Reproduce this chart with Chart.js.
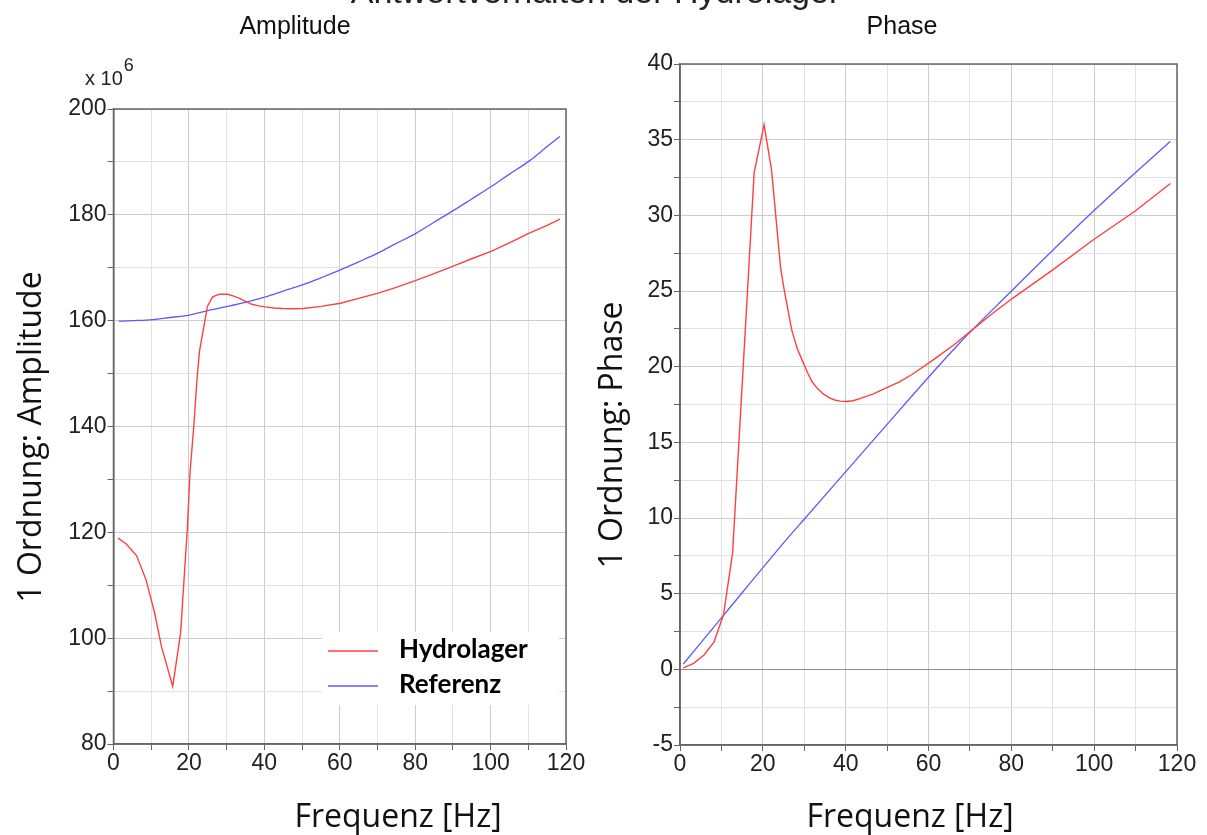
<!DOCTYPE html>
<html lang="de">
<head>
<meta charset="UTF-8">
<title>Antwortverhalten der Hydrolager</title>
<style>
  body { margin: 0; background: #fff; }
  #wrap { position: relative; width: 1207px; height: 835px; overflow: hidden; }
  #ampChart { position: absolute; left: 0; top: 0; }
  #phaseChart { position: absolute; left: 580px; top: 0; }
  #mainTitle { position: absolute; left: -8px; width: 1207px; top: -28px; text-align: center;
               font: 34px "Liberation Sans", Arial, sans-serif; color: #222; white-space: nowrap; }
</style>
</head>
<body>
<div id="wrap">
  <canvas id="ampChart" width="610" height="835"></canvas>
  <canvas id="phaseChart" width="627" height="835"></canvas>
  <div id="mainTitle">Antwortverhalten der Hydrolager</div>
</div>

<script src="https://cdn.jsdelivr.net/npm/chart.js"></script>
<script>
// Amplitude (x 10^6) ueber Frequenz [Hz]
const ampHydroFreq = [1.2, 3.4, 6.1, 8.6, 10.9, 12.7, 15.7, 17.8, 19.6, 20.3, 21.3, 22.2, 22.8, 24.9, 26.3, 28.1, 30.3, 31.7, 33.1, 34.9, 36.7, 38.5, 40.3, 42.5, 44.8, 47.5, 50.3, 55, 60.2, 65, 70.2, 75, 80.2, 85, 90.1, 95, 100.1, 105, 110.1, 115, 118.4];
const ampHydroVal  = [118.9, 117.8, 115.6, 111.1, 104.8, 98.5, 90.9, 101.0, 121.0, 131.4, 140.1, 149.5, 154.2, 162.7, 164.5, 165.0, 165.0, 164.7, 164.3, 163.7, 163.1, 162.8, 162.6, 162.4, 162.3, 162.25, 162.3, 162.7, 163.3, 164.2, 165.2, 166.3, 167.6, 168.9, 170.3, 171.7, 173.1, 174.7, 176.5, 178.0, 179.2];
const ampRefFreq = [1.4, 5, 10.4, 15, 20.4, 25, 30.3, 36.2, 40.3, 45, 50.3, 55, 60.2, 65, 70.2, 75, 80.2, 85, 90.1, 95, 100.1, 105, 110.1, 115, 118.4];
const ampRefVal  = [159.9, 160.0, 160.2, 160.6, 161.1, 161.9, 162.7, 163.7, 164.5, 165.6, 166.8, 168.1, 169.6, 171.1, 172.8, 174.6, 176.5, 178.6, 180.8, 183.0, 185.3, 187.7, 190.1, 192.9, 194.8];

// Phase [Grad] ueber Frequenz [Hz]
const phaseHydroFreq = [0.8, 3.3, 5.8, 8.2, 10.5, 12.7, 16.3, 17.9, 20.3, 22.1, 24.3, 25.2, 27.0, 28.3, 29.7, 30.8, 31.9, 33.2, 34.6, 36.0, 37.3, 38.7, 40.0, 41.8, 43.6, 46.7, 49.8, 53.0, 56.1, 61.4, 66.4, 70.4, 74.9, 80.2, 90, 99.9, 110, 118.4];
const phaseHydroVal  = [0.1, 0.4, 0.95, 1.8, 3.6, 7.7, 25.0, 32.8, 36.0, 33.0, 26.5, 25.0, 22.4, 21.2, 20.3, 19.6, 19.0, 18.55, 18.2, 17.95, 17.8, 17.72, 17.7, 17.75, 17.9, 18.2, 18.6, 19.0, 19.5, 20.5, 21.5, 22.4, 23.4, 24.5, 26.4, 28.4, 30.3, 32.1];
const phaseRefFreq = [0.8, 10.9, 26.1, 30.1, 46.2, 67.3, 79.3, 99.9, 118.4];
const phaseRefVal  = [0.35, 3.7, 8.7, 9.95, 15.0, 21.5, 24.8, 30.3, 34.9];

// beschriftete Ticks
const freqLabels  = [0, 20, 40, 60, 80, 100, 120];
const ampLabels   = [80, 100, 120, 140, 160, 180, 200];
const phaseLabels = [-5, 0, 5, 10, 15, 20, 25, 30, 35, 40];

const seriesNames = ['Hydrolager', 'Referenz'];
const colRed = '#ff4040';
const colBlue = '#5a5aff';
const gridMajor = '#cccccc';
const gridMinor = '#e2e2e2';
const tickFont = { family: '"Liberation Sans", Arial, sans-serif', size: 23 };

function toPoints(xs, ys) {
    return xs.map((x, i) => ({ x: x, y: ys[i] }));
}

// Rahmen oben/rechts
const framePlugin = {
    id: 'frame',
    beforeDatasetsDraw(chart) {
        const a = chart.chartArea, ctx = chart.ctx;
        ctx.save();
        ctx.strokeStyle = '#666';
        ctx.lineWidth = 1.5;
        ctx.strokeRect(a.left, a.top, a.right - a.left, a.bottom - a.top);
        ctx.restore();
    }
};

// Legende im Diagramm (weisses Feld)
const boxLegend = {
    id: 'boxLegend',
    afterDatasetsDraw(chart, args, opts) {
        if (!opts.show) return;
        const ctx = chart.ctx;
        ctx.save();
        ctx.fillStyle = '#fff';
        ctx.fillRect(opts.x, opts.y, opts.w, opts.h);
        ctx.font = 'bold 26px Lato, "Open Sans", sans-serif';
        ctx.textBaseline = 'middle';
        ctx.fillStyle = '#000';
        chart.data.datasets.forEach((ds, i) => {
            const yy = opts.y + opts.rowY[i];
            ctx.strokeStyle = ds.borderColor;
            ctx.lineWidth = 1.5;
            ctx.beginPath();
            ctx.moveTo(opts.x + 6, yy);
            ctx.lineTo(opts.x + 56, yy);
            ctx.stroke();
            ctx.fillText(ds.label, opts.x + 77, yy - 1);
        });
        ctx.restore();
    }
};

// Titel und Achsenbeschriftungen
const textPlugin = {
    id: 'texte',
    afterDraw(chart, args, opts) {
        const ctx = chart.ctx;
        (opts.items || []).forEach(t => {
            ctx.save();
            ctx.font = t.font;
            ctx.fillStyle = t.color || '#222';
            ctx.textAlign = t.align || 'center';
            ctx.textBaseline = 'alphabetic';
            ctx.translate(t.x, t.y);
            if (t.rotate) ctx.rotate(t.rotate);
            ctx.fillText(t.text, 0, 0);
            if (t.sup) {
                const w = ctx.measureText(t.text).width;
                ctx.font = t.supFont;
                ctx.textAlign = 'left';
                ctx.fillText(t.sup, w + 1, -14);
            }
            ctx.restore();
        });
    }
};

function makeChart(id, cfg) {
    return new Chart(document.getElementById(id), {
        type: 'line',
        data: {
            datasets: [{
                label: seriesNames[0],
                data: toPoints(cfg.hydroX, cfg.hydroY),
                borderColor: colRed,
                borderWidth: 1.4,
                pointRadius: 0,
                tension: 0
            }, {
                label: seriesNames[1],
                data: toPoints(cfg.refX, cfg.refY),
                borderColor: colBlue,
                borderWidth: 1.3,
                pointRadius: 0,
                cubicInterpolationMode: 'monotone'
            }]
        },
        options: {
            responsive: false,
            animation: false,
            layout: { padding: cfg.padding },
            plugins: {
                legend: { display: false },
                tooltip: { enabled: false },
                boxLegend: cfg.legend,
                texte: { items: cfg.texts }
            },
            scales: {
                x: {
                    type: 'linear', min: 0, max: 120,
                    ticks: {
                        stepSize: 10, autoSkip: false, maxRotation: 0, padding: 0,
                        color: '#222', font: tickFont,
                        callback: v => freqLabels.includes(v) ? String(v) : ''
                    },
                    grid: {
                        color: c => freqLabels.includes(c.tick.value) ? gridMajor : gridMinor,
                        tickColor: '#666', tickLength: 6
                    },
                    border: { color: '#666', width: 1.5 },
                    afterFit: s => { s.height = cfg.xHeight; }
                },
                y: {
                    min: cfg.yMin, max: cfg.yMax,
                    ticks: {
                        stepSize: cfg.yStep, autoSkip: false, padding: 1,
                        color: '#222', font: tickFont,
                        callback: v => cfg.yLabels.includes(v) ? String(v) : ''
                    },
                    grid: {
                        color: c => c.tick.value === 0 && cfg.zeroLine ? '#8c8c8c' :
                                    (cfg.yLabels.includes(c.tick.value) ? gridMajor : gridMinor),
                        tickColor: '#666', tickLength: 6
                    },
                    border: { color: '#666', width: 1.5 },
                    afterFit: s => { s.width = cfg.yWidth; }
                }
            }
        },
        plugins: [framePlugin, boxLegend, textPlugin]
    });
}

const subFont = '25px "Liberation Sans", Arial, sans-serif';
const axisFont = '32px "Open Sans", sans-serif';

makeChart('ampChart', {
    hydroX: ampHydroFreq, hydroY: ampHydroVal,
    refX: ampRefFreq, refY: ampRefVal,
    yMin: 80, yMax: 200, yStep: 10, yLabels: ampLabels,
    padding: { left: 0, top: 109, right: 44, bottom: 0 },
    yWidth: 113.5, xHeight: 91,
    legend: { show: true, x: 322, y: 632, w: 237, h: 73, rowY: [19, 54] },
    texts: [
        { text: 'Amplitude', x: 295, y: 34, font: subFont, color: '#111' },
        { text: 'x 10', x: 85, y: 85, align: 'left', font: '20px "Liberation Sans", Arial, sans-serif',
          sup: '6', supFont: '18px "Liberation Sans", Arial, sans-serif', color: '#222' },
        { text: '1 Ordnung: Amplitude', x: 41, y: 437, rotate: -Math.PI / 2, font: axisFont, color: '#111' },
        { text: 'Frequenz [Hz]', x: 398, y: 827, font: axisFont, color: '#111' }
    ]
});

makeChart('phaseChart', {
    hydroX: phaseHydroFreq, hydroY: phaseHydroVal,
    refX: phaseRefFreq, refY: phaseRefVal,
    yMin: -5, yMax: 40, yStep: 2.5, yLabels: phaseLabels, zeroLine: true,
    padding: { left: 0, top: 64, right: 30, bottom: 0 },
    yWidth: 100, xHeight: 90,
    legend: { show: false },
    texts: [
        { text: 'Phase', x: 322, y: 34, font: subFont, color: '#111' },
        { text: '1 Ordnung: Phase', x: 42, y: 435, rotate: -Math.PI / 2, font: axisFont, color: '#111' },
        { text: 'Frequenz [Hz]', x: 330, y: 827, font: axisFont, color: '#111' }
    ]
});
</script>
</body>
</html>
